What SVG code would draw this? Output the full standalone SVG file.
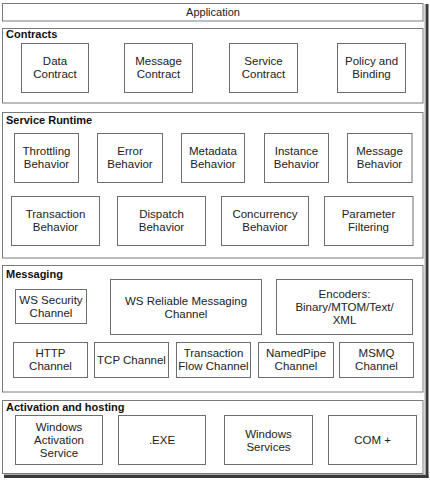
<svg xmlns="http://www.w3.org/2000/svg" width="430" height="484" viewBox="0 0 430 484">
<style>
.frame{fill:#fff;stroke:#7a7a7a;stroke-width:1}
.box{fill:#fff;stroke:#6e6e6e;stroke-width:1}
text{font-family:"Liberation Sans",Arial,sans-serif;font-size:11.5px;fill:#222;text-anchor:middle}
.title{font-weight:bold;font-size:11px;text-anchor:start;fill:#111}
.shadow{fill:#3a3a3a}
</style>
<rect x="0" y="0" width="430" height="484" fill="#fff"/>
<g id="shadow">
<rect class="shadow" x="425.5" y="4" width="3" height="474"/>
<rect class="shadow" x="4" y="475" width="424.5" height="3"/>
<rect x="424.5" y="4" width="1" height="471" fill="#aaa"/>
<rect x="4" y="474" width="421" height="1" fill="#aaa"/>
</g>
<g id="application">
<rect class="frame" x="2.5" y="3.5" width="420.5" height="17.5"/>
<text x="213" y="16" style="font-size:11px">Application</text>
</g>
<g id="contracts">
<rect class="frame" x="2.5" y="28.5" width="420.5" height="74.5"/>
<text class="title" x="6" y="38">Contracts</text>
</g>
<g id="data-contract"><rect class="box" x="21.5" y="43.5" width="67" height="49"/><text x="55" y="65">Data</text><text x="55" y="78">Contract</text></g>
<g id="message-contract"><rect class="box" x="124.5" y="43.5" width="68" height="49"/><text x="158.5" y="65">Message</text><text x="158.5" y="78">Contract</text></g>
<g id="service-contract"><rect class="box" x="229.5" y="43.5" width="68" height="49"/><text x="263.5" y="65">Service</text><text x="263.5" y="78">Contract</text></g>
<g id="policy-binding"><rect class="box" x="337.5" y="43.5" width="68" height="49"/><text x="371.5" y="65">Policy and</text><text x="371.5" y="78">Binding</text></g>
<g id="service-runtime">
<rect class="frame" x="2.5" y="112.5" width="420.5" height="145.5"/>
<text class="title" x="6" y="124">Service Runtime</text>
</g>
<g id="throttling"><rect class="box" x="14.5" y="133.5" width="64" height="49"/><text x="46.5" y="155">Throttling</text><text x="46.5" y="168">Behavior</text></g>
<g id="error"><rect class="box" x="97.5" y="133.5" width="65" height="49"/><text x="130" y="155">Error</text><text x="130" y="168">Behavior</text></g>
<g id="metadata"><rect class="box" x="181.5" y="133.5" width="63" height="49"/><text x="213" y="155">Metadata</text><text x="213" y="168">Behavior</text></g>
<g id="instance"><rect class="box" x="264.5" y="133.5" width="64" height="49"/><text x="296.5" y="155">Instance</text><text x="296.5" y="168">Behavior</text></g>
<g id="message-behavior"><rect class="box" x="347.5" y="133.5" width="64.5" height="49"/><text x="379.5" y="155">Message</text><text x="379.5" y="168">Behavior</text></g>
<g id="transaction"><rect class="box" x="11.5" y="196.5" width="88" height="49"/><text x="55.5" y="218">Transaction</text><text x="55.5" y="231">Behavior</text></g>
<g id="dispatch"><rect class="box" x="117.5" y="196.5" width="88" height="49"/><text x="161.5" y="218">Dispatch</text><text x="161.5" y="231">Behavior</text></g>
<g id="concurrency"><rect class="box" x="221.5" y="196.5" width="87" height="49"/><text x="265" y="218">Concurrency</text><text x="265" y="231">Behavior</text></g>
<g id="parameter"><rect class="box" x="324.5" y="196.5" width="88.5" height="49"/><text x="368.5" y="218">Parameter</text><text x="368.5" y="231">Filtering</text></g>
<g id="messaging">
<rect class="frame" x="2.5" y="265.5" width="420.5" height="126.5"/>
<text class="title" x="6" y="278">Messaging</text>
</g>
<g id="ws-security"><rect class="box" x="15.5" y="289.5" width="71" height="34"/><text x="51" y="304">WS Security</text><text x="51" y="317">Channel</text></g>
<g id="ws-reliable"><rect class="box" x="110.5" y="279.5" width="151" height="55"/><text x="186" y="305">WS Reliable Messaging</text><text x="186" y="318">Channel</text></g>
<g id="encoders"><rect class="box" x="276.5" y="279.5" width="136" height="55"/><text x="344.5" y="297.5">Encoders:</text><text x="344.5" y="310.5">Binary/MTOM/Text/</text><text x="344.5" y="323.5">XML</text></g>
<g id="http"><rect class="box" x="13.5" y="342.5" width="74" height="35"/><text x="50.5" y="357">HTTP</text><text x="50.5" y="370">Channel</text></g>
<g id="tcp"><rect class="box" x="94.5" y="342.5" width="74" height="35"/><text x="131.5" y="364">TCP Channel</text></g>
<g id="transaction-flow"><rect class="box" x="176.5" y="342.5" width="74" height="35"/><text x="213.5" y="357">Transaction</text><text x="213.5" y="370">Flow Channel</text></g>
<g id="namedpipe"><rect class="box" x="258.5" y="342.5" width="75" height="35"/><text x="296" y="357">NamedPipe</text><text x="296" y="370">Channel</text></g>
<g id="msmq"><rect class="box" x="339.5" y="342.5" width="74" height="35"/><text x="376.5" y="357">MSMQ</text><text x="376.5" y="370">Channel</text></g>
<g id="activation">
<rect class="frame" x="2.5" y="400.5" width="420.5" height="73"/>
<text class="title" x="6" y="411">Activation and hosting</text>
</g>
<g id="was"><rect class="box" x="15.5" y="415.5" width="87" height="49"/><text x="59" y="431">Windows</text><text x="59" y="444">Activation</text><text x="59" y="457">Service</text></g>
<g id="exe"><rect class="box" x="118.5" y="415.5" width="87" height="49"/><text x="162" y="444">.EXE</text></g>
<g id="windows-services"><rect class="box" x="224.5" y="415.5" width="88" height="49"/><text x="268.5" y="437.5">Windows</text><text x="268.5" y="450.5">Services</text></g>
<g id="complus"><rect class="box" x="328.5" y="415.5" width="88" height="49"/><text x="372.5" y="444">COM +</text></g>
<g id="connectors"/>
</svg>
